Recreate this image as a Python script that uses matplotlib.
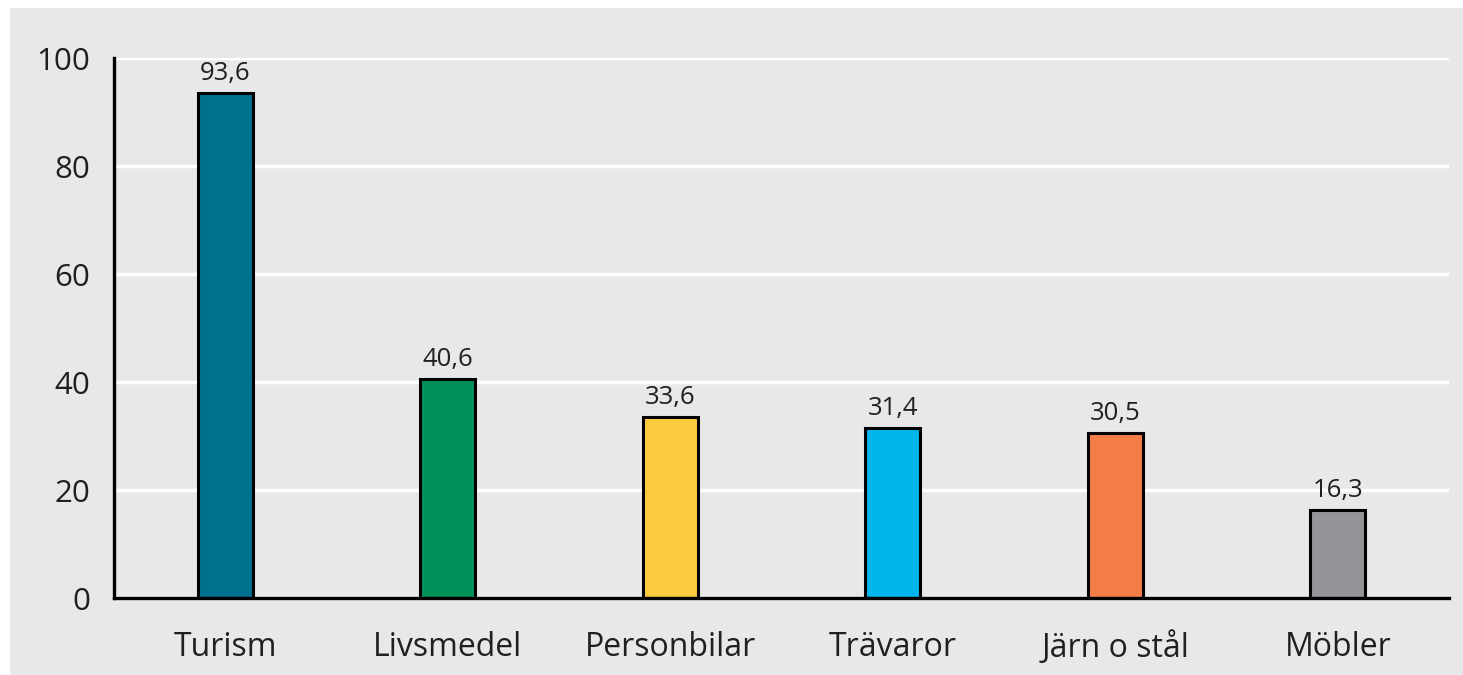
import matplotlib.pyplot as plt
from matplotlib.patches import Rectangle

# data
kategorier = ['Turism', 'Livsmedel', 'Personbilar', 'Trävaror', 'Järn o stål', 'Möbler']
varden = [93.6, 40.6, 33.6, 31.4, 30.5, 16.3]
etiketter = ['93,6', '40,6', '33,6', '31,4', '30,5', '16,3']
farger = ['#00708f', '#00915a', '#fcca3d', '#00b5eb', '#f47e45', '#939598']
yticks = [0, 20, 40, 60, 80, 100]

plt.rcParams['font.family'] = ['Open Sans', 'DejaVu Sans']

fig = plt.figure(figsize=(14.63, 6.75), dpi=100, facecolor='white')
# grå bakgrund med smal vit kant
fig.patches.append(Rectangle((10 / 1463, 0), 1 - 10 / 1463, 1 - 8 / 675,
                             transform=fig.transFigure, facecolor='#e8e8e8',
                             edgecolor='none', zorder=-10))
ax = fig.add_axes([114 / 1463, 77 / 675, (1449 - 114) / 1463, (598 - 58) / 675])
ax.set_facecolor('none')

x = range(len(kategorier))
ax.bar(x, varden, width=0.245, color=farger, edgecolor='black', linewidth=2.2, zorder=3)
for i, v in enumerate(varden):
    ax.annotate(etiketter[i], (i, v), xytext=(0, 5), textcoords='offset points',
                ha='center', va='bottom', fontsize=18.5, color='#231f20')

ax.set_xlim(-0.5, 5.5)
ax.set_ylim(0, 100)
ax.set_yticks(yticks)
ax.set_xticks(list(x))
ax.set_xticklabels(kategorier)
ax.yaxis.grid(True, color='white', linewidth=2.5)
ax.set_axisbelow(True)
ax.tick_params(axis='both', length=0, colors='#231f20')
ax.tick_params(axis='y', pad=17, labelsize=22.5)
ax.tick_params(axis='x', pad=24, labelsize=23)
for s in ['top', 'right']:
    ax.spines[s].set_visible(False)
for s in ['left', 'bottom']:
    ax.spines[s].set_linewidth(2.4)
    ax.spines[s].set_color('black')
    ax.spines[s].set_zorder(4)

fig.savefig('out.png', dpi=100, facecolor=fig.get_facecolor())
